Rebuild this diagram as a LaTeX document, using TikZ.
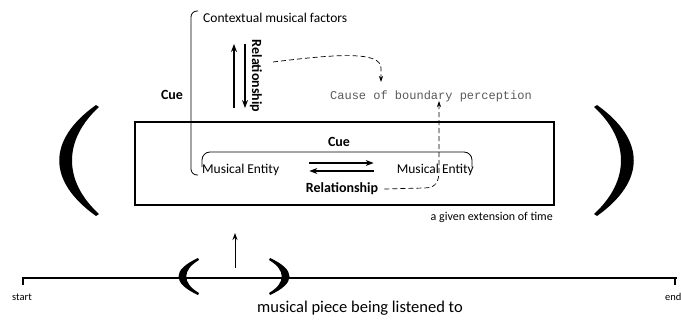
\documentclass[tikz,border=0pt]{standalone}
\usepackage{fontspec}
\setmainfont{Carlito}
\setmonofont{Liberation Mono}
\usetikzlibrary{arrows.meta}
\tikzset{
  lbl/.style={inner sep=0pt, font=\fontsize{13.5}{15}\selectfont},
  smalllbl/.style={inner sep=0pt, font=\fontsize{12}{14}\selectfont},
  boldlbl/.style={inner sep=0pt, font=\fontsize{14}{16}\selectfont\bfseries},
  relarrow/.style={line width=1.6pt, -{Stealth[length=8pt,width=6pt]}},
  cuearrow/.style={dash pattern=on 5pt off 3pt, line width=0.7pt, -{Stealth[length=6pt,width=4pt]}},
  thickline/.style={line width=2.6pt}
}
\begin{document}
\begin{tikzpicture}[x=1pt,y=-1pt]
\useasboundingbox (0,0) rectangle (681,324);
% extension of time
\draw[line width=1.2pt] (135,122) -- (135,205);
\draw[line width=1.2pt] (554,122) -- (554,205);
\draw[thickline] (134,122) -- (555,122);
\draw[thickline] (134,205) -- (555,205);
\fill (96,105) .. controls (47,140) and (47,181) .. (96,216) -- (99,214) .. controls (63,181) and (63,140) .. (99,107) -- cycle;
\fill (597,105) .. controls (646,140) and (646,181) .. (597,216) -- (594,214) .. controls (630,181) and (630,140) .. (594,107) -- cycle;
\node[smalllbl, anchor=east] (ext) at (553,217) {a given extension of time};

% entities
\node[lbl, anchor=west] (ctx) at (203,18) {Contextual musical factors};
\node[lbl, anchor=west] (ent1) at (202,170) {Musical Entity};
\node[lbl, anchor=east] (ent2) at (474,170) {Musical Entity};
\node[boldlbl] (cueout) at (172,95) {Cue};
\node[boldlbl] (cuein) at (339,142) {Cue};
\node[boldlbl, rotate=-90] (relup) at (256,76) {Relationship};
\node[boldlbl] (relin) at (342,189) {Relationship};
\node[inner sep=0pt, font=\ttfamily\fontsize{12}{14}\selectfont, text=black!65] (cause) at (431,96) {Cause of boundary perception};

% cue brackets
\draw[line width=0.8pt, rounded corners=6pt] (198,11) -- (191,11) -- (191,175) -- (198,175);
\draw[line width=0.8pt, rounded corners=8pt] (202,167) -- (202,152) -- (472,152) -- (472,167);

% relationships
\coordinate (up1) at (234,108);
\coordinate (up2) at (234,44);
\coordinate (dn1) at (245,44);
\coordinate (dn2) at (245,108);
\draw[relarrow] (up1) -- (up2);
\draw[relarrow] (dn1) -- (dn2);
\draw[relarrow] ([xshift=30pt,yshift=7pt]ent1.east) -- ([xshift=-23pt,yshift=7pt]ent2.west);
\draw[relarrow] ([xshift=-23pt,yshift=-1pt]ent2.west) -- ([xshift=30pt,yshift=-1pt]ent1.east);

% boundary cues
\coordinate (c1) at (273,62);
\coordinate (c2) at (381,82);
\draw[cuearrow] (c1) .. controls (330,55) and (381,50) .. (381,68) -- (c2);
\coordinate (c3) at (439,101);
\draw[cuearrow] ([xshift=6pt]relin.east) -- (424,188) .. controls (436,188) and (439,182) .. (439,170) -- (c3);

% musical piece
\coordinate (tstart) at (22,278);
\coordinate (tend) at (677,278);
\draw[thickline] (tstart) -- (tend);
\draw[line width=2pt] (23,277) -- (23,285);
\draw[line width=2pt] (675,277) -- (675,285);
\node[smalllbl, font=\fontsize{10.5}{12}\selectfont] (startlbl) at (22,297) {start};
\node[smalllbl, font=\fontsize{10.5}{12}\selectfont, anchor=west] (endlbl) at (665,297) {end};
\fill (198,258) .. controls (172,270) and (172,283) .. (198,295) -- (199,293) .. controls (182,283) and (182,270) .. (199,260) -- cycle;
\fill (270,258) .. controls (296,270) and (296,283) .. (270,295) -- (269,293) .. controls (286,283) and (286,270) .. (269,260) -- cycle;
\coordinate (win) at (235,268);
\coordinate (winup) at (235,233);
\draw[line width=1pt, -{Stealth[length=7pt,width=5pt]}] (win) -- (winup);
\node[lbl, font=\fontsize{16.5}{18}\selectfont] (piece) at (360,308) {musical piece being listened to};
\end{tikzpicture}
\end{document}
